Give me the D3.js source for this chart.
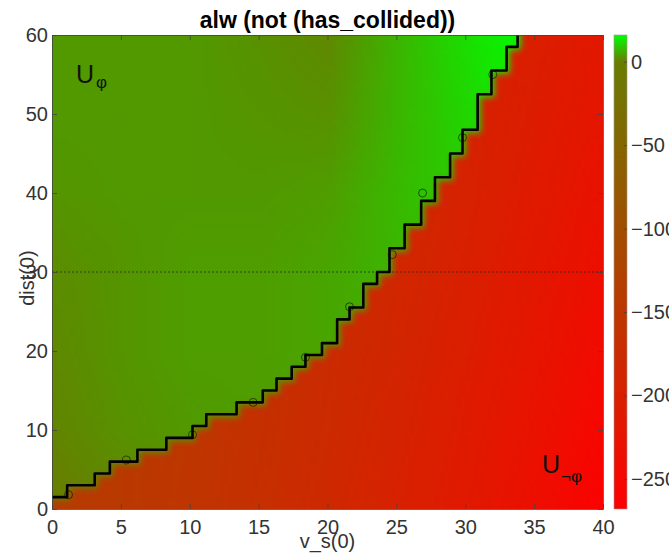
<!DOCTYPE html>
<html><head><meta charset="utf-8">
<script src="https://cdn.jsdelivr.net/npm/d3@7"></script>
<style>
html,body{margin:0;padding:0;background:#fff;}
text{font-family:"Liberation Sans",Arial,Helvetica,sans-serif;}
</style></head><body>
<svg id="chart" width="669" height="554"></svg>
<script>
// ---------- data ----------
const titleText = "alw (not (has_collided))";
const xLabel = "v_s(0)";
const yLabel = "dist(0)";
const xTicks = [0, 5, 10, 15, 20, 25, 30, 35, 40];
const yTicks = [0, 10, 20, 30, 40, 50, 60];
const cbTicks = [0, -50, -100, -150, -200, -250];
const valueRange = [-268, 16];

// coarse field grids (rows follow gridD, columns follow gridV)
const gridV = [0, 5, 10, 15, 20, 25, 30, 35, 40];
const gridD = [0, 10, 20, 30, 40, 50, 60];
const safeValues = [
  [0.0, 1.0, 2.5, 3.0, 3.0, 3.0, 3.0, 3.0, 3.0],
  [1.0, 2.5, 3.5, 4.0, 4.5, 5.0, 5.0, 5.0, 5.0],
  [1.5, 3.0, 4.0, 4.0, 5.0, 6.0, 7.0, 7.0, 7.0],
  [2.0, 3.0, 4.0, 4.0, 5.0, 7.0, 9.0, 10.0, 10.0],
  [3.0, 3.5, 3.5, 3.5, 4.0, 7.5, 10.0, 13.0, 13.0],
  [3.5, 3.5, 3.5, 3.0, 2.5, 7.0, 11.0, 15.0, 15.0],
  [3.5, 3.5, 3.5, 2.5, 1.5, 7.0, 12.0, 16.0, 16.0]
];
const unsafeValues = [
  [-140, -145, -155, -168, -182, -198, -215, -238, -265],
  [-140, -145, -153, -165, -178, -193, -210, -230, -255],
  [-140, -145, -152, -162, -175, -188, -205, -224, -246],
  [-140, -145, -150, -160, -172, -185, -200, -218, -238],
  [-140, -145, -150, -158, -170, -182, -196, -213, -231],
  [-140, -145, -150, -157, -168, -180, -193, -208, -224],
  [-140, -145, -150, -156, -166, -178, -190, -204, -218]
];

// staircase boundary: each horizontal segment starts at stepStartV at level stepLevelD
const stepStartV = [0, 1.1, 3.1, 4.2, 6.2, 8.3, 10.2, 11.2, 13.4, 15.3, 16.3, 17.4, 18.4, 19.6,
  20.7, 21.6, 22.6, 23.6, 24.5, 25.6, 26.8, 27.8, 28.9, 29.8, 30.9, 31.9, 33.0, 33.8];
const stepLevelD = [1.5, 3, 4.5, 6, 7.5, 9, 10.5, 12, 13.5, 15, 16.5, 18, 19.5, 21,
  24, 25.5, 28.5, 30, 33, 36, 39, 42, 45, 48, 52.5, 55.5, 58.5, 60];

// small circle markers along the boundary
const markerV = [1.2, 5.4, 10.2, 14.6, 18.4, 21.6, 24.7, 26.9, 29.8, 32.0];
const markerD = [1.8, 6.2, 9.4, 13.5, 19.2, 25.6, 32.2, 40.0, 47.0, 55.0];

const refLineD = 30;

// ---------- layout ----------
const W = 669, H = 554;
const plot = {left: 52, right: 603, top: 35, bottom: 509};
const cbar = {left: 614, right: 627};

const svg = d3.select("#chart");
const x = d3.scaleLinear().domain([0, 40]).range([plot.left, plot.right]);
const y = d3.scaleLinear().domain([0, 60]).range([plot.bottom, plot.top]);
const color = d3.scaleLinear().domain([valueRange[0], 0, valueRange[1]])
  .range(["#ff0000", "#697d00", "#00ff00"]).clamp(true);

const defs = svg.append("defs");
defs.append("clipPath").attr("id", "plotClip").append("rect")
  .attr("x", plot.left).attr("y", plot.top)
  .attr("width", plot.right - plot.left).attr("height", plot.bottom - plot.top);

function fieldImage(values) {
  const c = document.createElement("canvas");
  c.width = gridV.length; c.height = gridD.length;
  const ctx = c.getContext("2d");
  const img = ctx.createImageData(c.width, c.height);
  for (let r = 0; r < gridD.length; r++) {
    const di = gridD.length - 1 - r;
    for (let ci = 0; ci < gridV.length; ci++) {
      const col = d3.rgb(color(values[di][ci]));
      const k = (r * c.width + ci) * 4;
      img.data[k] = col.r; img.data[k + 1] = col.g; img.data[k + 2] = col.b; img.data[k + 3] = 255;
    }
  }
  ctx.putImageData(img, 0, 0);
  return c.toDataURL();
}
const dv = (gridV[1] - gridV[0]) / 2, dd = (gridD[1] - gridD[0]) / 2;
function placeImage(g, values) {
  return g.append("image")
    .attr("href", fieldImage(values))
    .attr("x", x(gridV[0] - dv)).attr("y", y(gridD[gridD.length - 1] + dd))
    .attr("width", x(gridV[gridV.length - 1] + dv) - x(gridV[0] - dv))
    .attr("height", y(gridD[0] - dd) - y(gridD[gridD.length - 1] + dd))
    .attr("preserveAspectRatio", "none")
    .style("image-rendering", "auto");
}

// mask of the safe (green) region, softened at the boundary
const stepPts = stepStartV.map((v, i) => [v, stepLevelD[i]]);
const stepLine = d3.line().x(d => x(d[0])).y(d => y(d[1])).curve(d3.curveStepAfter);
const maskPts = [[-3, 70], [-3, stepLevelD[0]]].concat(stepPts.slice(1))
  .concat([[stepStartV[stepStartV.length - 1], 70]]);
const blur = defs.append("filter").attr("id", "soft")
  .attr("x", "-10%").attr("y", "-10%").attr("width", "120%").attr("height", "120%");
blur.append("feGaussianBlur").attr("stdDeviation", 3);
const mask = defs.append("mask").attr("id", "safeMask").attr("maskUnits", "userSpaceOnUse")
  .attr("x", 0).attr("y", 0).attr("width", W).attr("height", H);
mask.append("path").attr("d", stepLine(maskPts) + "Z")
  .attr("transform", "translate(3,3)")
  .attr("fill", "#fff").attr("filter", "url(#soft)");

const field = svg.append("g").attr("clip-path", "url(#plotClip)");
placeImage(field, unsafeValues);
placeImage(field.append("g").attr("mask", "url(#safeMask)"), safeValues);

// dotted reference line
field.append("line")
  .attr("x1", x(0)).attr("x2", x(40)).attr("y1", y(refLineD)).attr("y2", y(refLineD))
  .attr("stroke", "#222").attr("stroke-width", 0.9).attr("stroke-dasharray", "2,2").attr("opacity", 0.8);

// staircase boundary
field.append("path").attr("d", stepLine(stepPts))
  .attr("fill", "none").attr("stroke", "#000").attr("stroke-width", 2.6)
  .attr("stroke-linejoin", "round");

// markers
field.selectAll("circle.mk").data(markerV).join("circle").attr("class", "mk")
  .attr("cx", d => x(d)).attr("cy", (d, i) => y(markerD[i])).attr("r", 4)
  .attr("fill", "none").attr("stroke", "rgba(0,0,0,0.55)").attr("stroke-width", 1);

// ---------- axes ----------
const tickCol = "#333";
function styleAxis(g) {
  g.selectAll("path.domain").attr("stroke", "#444").attr("stroke-width", 0.8);
  g.selectAll(".tick line").attr("stroke", "#444").attr("stroke-width", 0.8);
  g.selectAll(".tick text").attr("fill", tickCol).attr("font-size", 20)
    .attr("font-family", "'Liberation Sans', Arial, sans-serif");
}
svg.append("g").attr("transform", `translate(0,${plot.bottom})`)
  .call(d3.axisBottom(x).tickValues(xTicks).tickSize(-5).tickSizeOuter(0).tickPadding(11))
  .call(styleAxis);
svg.append("g").attr("transform", `translate(0,${plot.top})`)
  .call(d3.axisTop(x).tickValues(xTicks).tickSize(-5).tickSizeOuter(0).tickFormat(""))
  .call(styleAxis);
svg.append("g").attr("transform", `translate(${plot.left},0)`)
  .call(d3.axisLeft(y).tickValues(yTicks).tickSize(-5).tickSizeOuter(0).tickPadding(4))
  .call(styleAxis);
svg.append("g").attr("transform", `translate(${plot.right},0)`)
  .call(d3.axisRight(y).tickValues(yTicks).tickSize(-5).tickSizeOuter(0).tickFormat(""))
  .call(styleAxis);

// ---------- colorbar ----------
const cScale = d3.scaleLinear().domain(valueRange).range([plot.bottom, plot.top]);
const grad = defs.append("linearGradient").attr("id", "cbGrad")
  .attr("x1", 0).attr("y1", 1).attr("x2", 0).attr("y2", 0);
[valueRange[0], 0, valueRange[1]].forEach(v => {
  grad.append("stop").attr("offset", (v - valueRange[0]) / (valueRange[1] - valueRange[0]))
    .attr("stop-color", color(v));
});
svg.append("rect").attr("x", cbar.left).attr("y", plot.top)
  .attr("width", cbar.right - cbar.left).attr("height", plot.bottom - plot.top)
  .attr("fill", "url(#cbGrad)").attr("stroke", "#999").attr("stroke-width", 0.6);
svg.append("g").attr("transform", `translate(${cbar.right},0)`)
  .call(d3.axisRight(cScale).tickValues(cbTicks).tickSize(-3).tickSizeOuter(0).tickPadding(4))
  .call(styleAxis)
  .call(g => g.select("path.domain").remove());

// ---------- texts ----------
svg.append("text").attr("x", (plot.left + plot.right) / 2).attr("y", 28)
  .attr("text-anchor", "middle").attr("font-weight", "bold").attr("font-size", 23)
  .attr("fill", "#000").text(titleText);
svg.append("text").attr("x", (plot.left + plot.right) / 2).attr("y", 548)
  .attr("text-anchor", "middle").attr("font-size", 20).attr("fill", tickCol).text(xLabel);
svg.append("text").attr("transform", "translate(34,278) rotate(-90)")
  .attr("text-anchor", "middle").attr("font-size", 20).attr("fill", tickCol).text(yLabel);

const u1 = svg.append("text").attr("x", 76).attr("y", 83).attr("font-size", 25).attr("fill", "#111");
u1.append("tspan").text("U");
u1.append("tspan").attr("font-size", 17).attr("dx", 2).attr("dy", 5).text("φ");
const u2 = svg.append("text").attr("x", 542).attr("y", 473).attr("font-size", 25).attr("fill", "#111");
u2.append("tspan").text("U");
u2.append("tspan").attr("font-size", 17).attr("dx", 1).attr("dy", 9).text("¬φ");
</script>
</body></html>
